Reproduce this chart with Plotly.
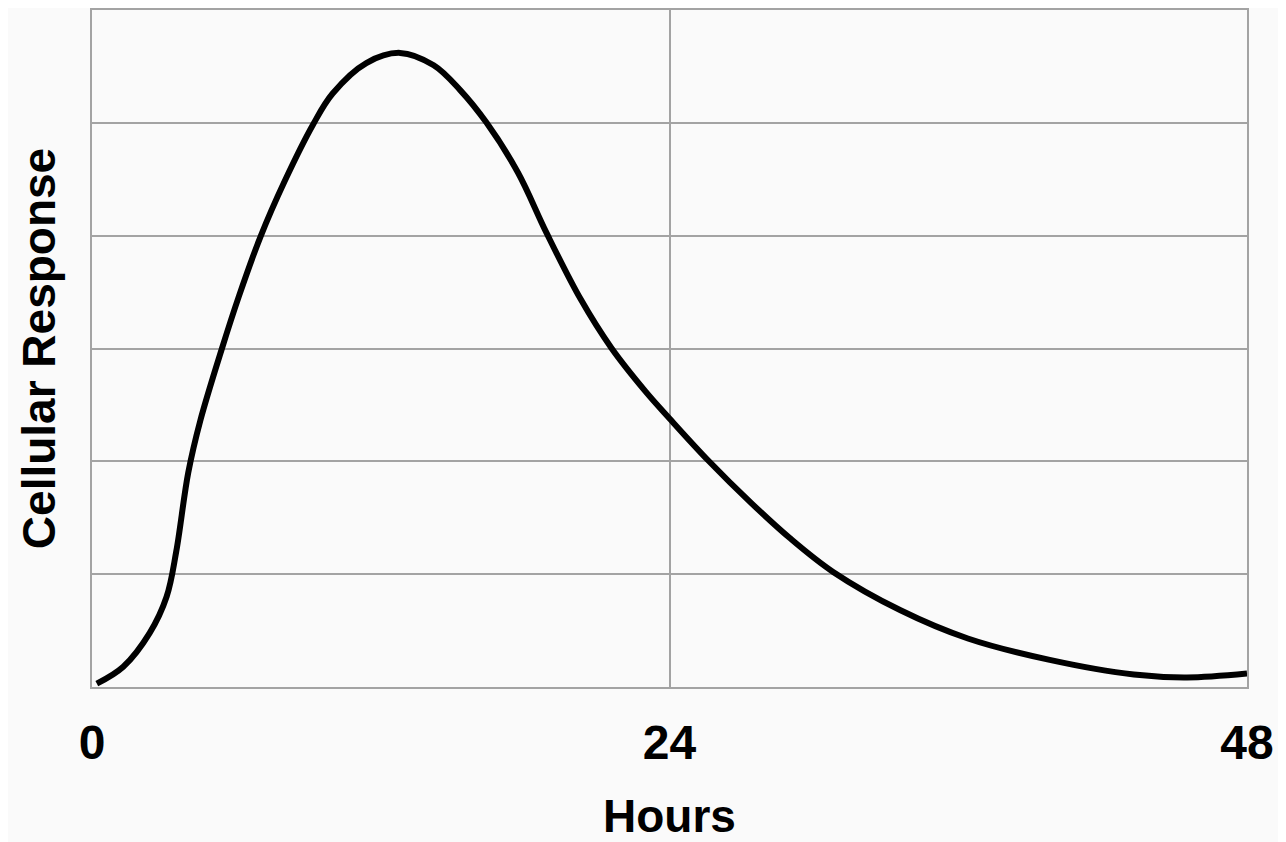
import plotly.graph_objects as go

hours = [0.2, 1.3, 2.4, 3.1, 3.5, 4.0, 4.5, 5.4, 6.1, 7.0, 8.0, 9.2, 10.0, 11.4,
         12.8, 14.2, 15.3, 16.4, 17.7, 18.9, 20.3, 21.6, 23.0, 24.0, 25.6, 27.4,
         29.0, 30.8, 33.6, 36.4, 39.8, 43.3, 45.5, 48.0]
response = [0.03, 0.18, 0.48, 0.80, 1.20, 1.90, 2.36, 3.00, 3.46, 3.99, 4.48, 4.99,
            5.26, 5.53, 5.62, 5.51, 5.29, 5.00, 4.56, 4.02, 3.44, 3.00, 2.62, 2.38,
            2.01, 1.63, 1.32, 1.02, 0.68, 0.43, 0.24, 0.11, 0.085, 0.12]

x_ticks = [0, 24, 48]
x_tick_labels = ["0", "24", "48"]

GRID = "#a3a3a3"
BG = "#fafafa"
FONT = "Liberation Sans"

fig = go.Figure()
fig.add_trace(
    go.Scatter(
        x=hours,
        y=response,
        mode="lines",
        line=dict(color="black", width=6, shape="spline", smoothing=1.0),
        showlegend=False,
        hoverinfo="skip",
    )
)

# page body adds an 8px offset, so the figure is a little smaller than the window
fig.update_layout(
    width=1278,
    height=834,
    margin=dict(l=84, r=39, t=0, b=155),
    paper_bgcolor=BG,
    plot_bgcolor=BG,
    font=dict(family=FONT, color="black"),
)
fig.update_xaxes(
    range=[0, 48],
    tickvals=x_ticks,
    ticktext=x_tick_labels,
    tickfont=dict(size=48, weight="bold"),
    ticklabelstandoff=12,
    showgrid=True,
    gridcolor=GRID,
    gridwidth=2,
    showline=True,
    linecolor=GRID,
    linewidth=2,
    mirror=True,
    zeroline=False,
    title=dict(text="Hours", font=dict(size=46, weight="bold"), standoff=38),
)
fig.update_yaxes(
    range=[0, 6],
    dtick=1,
    showticklabels=False,
    showgrid=True,
    gridcolor=GRID,
    gridwidth=2,
    showline=True,
    linecolor=GRID,
    linewidth=2,
    mirror=True,
    zeroline=False,
    title=dict(text="Cellular Response", font=dict(size=46, weight="bold"), standoff=20),
)

fig.write_html("out.html")
